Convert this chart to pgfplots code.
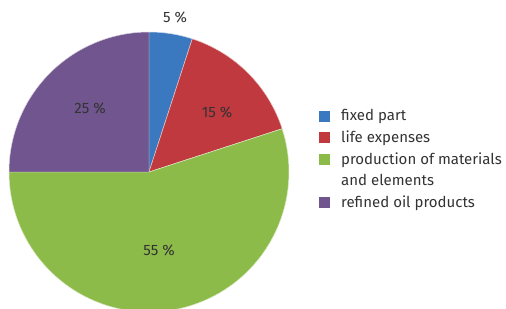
\documentclass[border=0pt]{standalone}
\usepackage{pgfplots}
\pgfplotsset{compat=1.18}
\usepackage{fontspec}
\setmainfont{Fira Sans}
\definecolor{cblue}{HTML}{3A78BF}
\definecolor{cred}{HTML}{C0393F}
\definecolor{cgreen}{HTML}{8DBB4A}
\definecolor{cpurple}{HTML}{71558F}
\definecolor{textgray}{HTML}{333333}
% pie slice: #1 = cumulative share before this slice (%), #2 = share (%), #3 = colour
\newcommand{\pieslice}[3]{%
  \pgfmathsetmacro{\angA}{90-3.6*(#1+#2)}%
  \pgfmathsetmacro{\angB}{90-3.6*(#1)}%
  \addplot[fill=#3, draw=white!70!#3, line width=0.5pt, domain=\angA:\angB, samples=80]
    ({149+140*cos(x)},{137+140*sin(x)}) -- (axis cs:149,137) -- cycle;
}
\newcommand{\lblfont}{\fontsize{15bp}{17bp}\selectfont\color{textgray}}
\begin{document}
\begin{tikzpicture}
\begin{axis}[
  x=1bp, y=1bp, xmin=0, xmax=506, ymin=0, ymax=309,
  hide axis, clip=false, at={(0,0)}, anchor=south west,
  legend image code/.code={\path[#1, draw=none] (0bp,-5.5bp) rectangle (11bp,5.5bp);},
  legend style={at={(axis cs:319,199.5)}, anchor=north west, draw=none, fill=none,
    font=\fontsize{15bp}{16bp}\selectfont\color{textgray},
    row sep=8.5bp, inner sep=0pt, column sep=0pt,
    nodes={inner sep=0pt, outer sep=0pt},
    cells={anchor=west}},
  legend cell align=left,
]
\pieslice{0}{5}{cblue}
\pieslice{5}{15}{cred}
\pieslice{20}{55}{cgreen}
\addlegendimage{empty legend}
\pieslice{75}{25}{cpurple}
\legend{\hspace{11bp}fixed part,\hspace{11bp}life expenses,\hspace{11bp}production of materials,\hspace{11bp}and elements,\hspace{11bp}refined oil products}
\node[font=\lblfont] at (axis cs:175,292) {5 \%};
\node[font=\lblfont] at (axis cs:217,197) {15 \%};
\node[font=\lblfont] at (axis cs:90,201) {25 \%};
\node[font=\lblfont] at (axis cs:159,59) {55 \%};
\end{axis}
\pgfresetboundingbox
\path[use as bounding box] (0,0) rectangle (506bp,309bp);
\end{tikzpicture}
\end{document}
